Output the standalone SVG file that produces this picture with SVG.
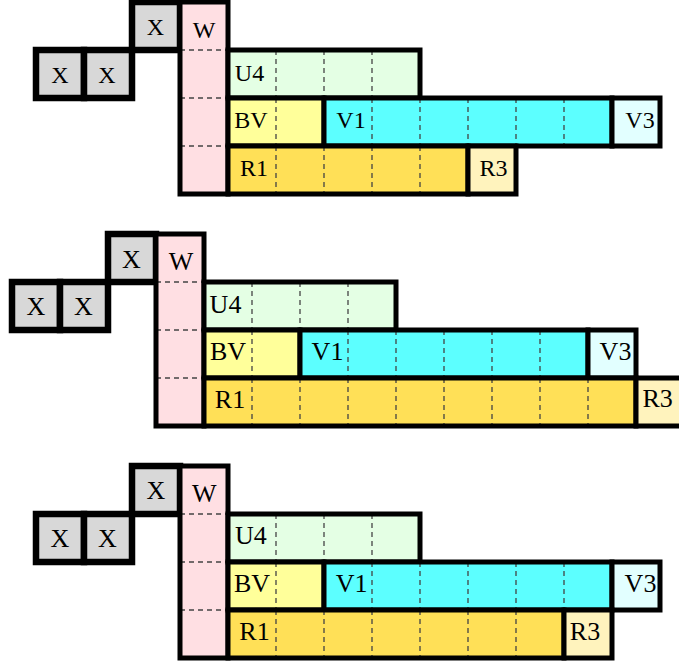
<svg xmlns="http://www.w3.org/2000/svg" width="679" height="666" viewBox="0 0 679 666">
<style>
.bg{fill:#ffffff}
.x{fill:#d8d8d8;stroke:#000;stroke-width:6.5}
.w{fill:#ffdfe3}
.u4{fill:#e4ffe4}
.bv{fill:#ffff9a}
.v1{fill:#5cffff}
.v3{fill:#e2ffff}
.r1{fill:#ffe057}
.r3{fill:#fff3bd}
.ol{fill:none;stroke:#000;stroke-width:5}
.cell{stroke:#9a9a9a;stroke-width:1}
.d{stroke:#444;stroke-width:1.3;stroke-dasharray:5 4;fill:none}
text{font-family:"Liberation Serif","Times New Roman",serif;fill:#000;text-anchor:middle}
.s1 text{font-size:24px}
.s2 text{font-size:26px}
.s3 text{font-size:26px}
</style>
<rect class="bg" x="0" y="0" width="679" height="666"/>

<!-- Diagram 1 -->
<g id="diagram1" class="s1">
  <g id="d1-X1"><rect class="x" x="36" y="50" width="48" height="48"/><text x="60" y="83">X</text></g>
  <g id="d1-X2"><rect class="x" x="84" y="50" width="48" height="48"/><text x="107" y="83">X</text></g>
  <g id="d1-X3"><rect class="x" x="132" y="2" width="48" height="48"/><text x="155.5" y="35.3">X</text></g>
  <g id="d1-W"><rect class="w cell" x="180" y="2" width="48" height="192"/><path class="d" d="M180 50H228M180 98H228M180 146H228"/><rect class="ol" x="180" y="2" width="48" height="192"/><text x="204" y="38">W</text></g>
  <g id="d1-U4"><rect class="u4 cell" x="228" y="50" width="192" height="48"/><path class="d" d="M276 50V98M324 50V98M372 50V98"/><rect class="ol" x="228" y="50" width="192" height="48"/><text x="249.5" y="81">U4</text></g>
  <g id="d1-BV"><rect class="bv cell" x="228" y="98" width="96" height="48"/><path class="d" d="M276 98V146"/><rect class="ol" x="228" y="98" width="96" height="48"/><text x="251" y="128">BV</text></g>
  <g id="d1-V1"><rect class="v1 cell" x="324" y="98" width="288" height="48"/><path class="d" d="M372 98V146M420 98V146M468 98V146M516 98V146M564 98V146"/><rect class="ol" x="324" y="98" width="288" height="48"/><text x="351" y="127.5">V1</text></g>
  <g id="d1-V3"><rect class="v3 cell" x="612" y="98" width="48" height="48"/><rect class="ol" x="612" y="98" width="48" height="48"/><text x="640" y="127.5">V3</text></g>
  <g id="d1-R1"><rect class="r1 cell" x="228" y="146" width="240" height="48"/><path class="d" d="M276 146V194M324 146V194M372 146V194M420 146V194"/><rect class="ol" x="228" y="146" width="240" height="48"/><text x="254" y="176">R1</text></g>
  <g id="d1-R3"><rect class="r3 cell" x="468" y="146" width="48" height="48"/><rect class="ol" x="468" y="146" width="48" height="48"/><text x="493.5" y="175.5">R3</text></g>
</g>

<!-- Diagram 2 -->
<g id="diagram2" class="s2" transform="translate(-24,232)">
  <g id="d2-X1"><rect class="x" x="36" y="50" width="48" height="48"/><text x="60" y="83">X</text></g>
  <g id="d2-X2"><rect class="x" x="84" y="50" width="48" height="48"/><text x="107.5" y="83">X</text></g>
  <g id="d2-X3"><rect class="x" x="132" y="2" width="48" height="48"/><text x="155.5" y="35.5">X</text></g>
  <g id="d2-W"><rect class="w cell" x="180" y="2" width="48" height="192"/><path class="d" d="M180 50H228M180 98H228M180 146H228"/><rect class="ol" x="180" y="2" width="48" height="192"/><text x="205" y="38">W</text></g>
  <g id="d2-U4"><rect class="u4 cell" x="228" y="50" width="192" height="48"/><path class="d" d="M276 50V98M324 50V98M372 50V98"/><rect class="ol" x="228" y="50" width="192" height="48"/><text x="249.5" y="80.5">U4</text></g>
  <g id="d2-BV"><rect class="bv cell" x="228" y="98" width="96" height="48"/><path class="d" d="M276 98V146"/><rect class="ol" x="228" y="98" width="96" height="48"/><text x="252" y="128">BV</text></g>
  <g id="d2-V1"><rect class="v1 cell" x="324" y="98" width="288" height="48"/><path class="d" d="M372 98V146M420 98V146M468 98V146M516 98V146M564 98V146"/><rect class="ol" x="324" y="98" width="288" height="48"/><text x="351.5" y="128">V1</text></g>
  <g id="d2-V3"><rect class="v3 cell" x="612" y="98" width="48" height="48"/><rect class="ol" x="612" y="98" width="48" height="48"/><text x="639.5" y="127.5">V3</text></g>
  <g id="d2-R1"><rect class="r1 cell" x="228" y="146" width="432" height="48"/><path class="d" d="M276 146V194M324 146V194M372 146V194M420 146V194M468 146V194M516 146V194M564 146V194M612 146V194"/><rect class="ol" x="228" y="146" width="432" height="48"/><text x="254" y="176.3">R1</text></g>
  <g id="d2-R3"><rect class="r3 cell" x="660" y="146" width="48" height="48"/><rect class="ol" x="660" y="146" width="48" height="48"/><text x="681.7" y="174.7">R3</text></g>
</g>

<!-- Diagram 3 -->
<g id="diagram3" class="s3" transform="translate(0,464)">
  <g id="d3-X1"><rect class="x" x="36" y="50" width="48" height="48"/><text x="60" y="83">X</text></g>
  <g id="d3-X2"><rect class="x" x="84" y="50" width="48" height="48"/><text x="107.5" y="83">X</text></g>
  <g id="d3-X3"><rect class="x" x="132" y="2" width="48" height="48"/><text x="156" y="35">X</text></g>
  <g id="d3-W"><rect class="w cell" x="180" y="2" width="48" height="192"/><path class="d" d="M180 50H228M180 98H228M180 146H228"/><rect class="ol" x="180" y="2" width="48" height="192"/><text x="204.2" y="37.7">W</text></g>
  <g id="d3-U4"><rect class="u4 cell" x="228" y="50" width="192" height="48"/><path class="d" d="M276 50V98M324 50V98M372 50V98"/><rect class="ol" x="228" y="50" width="192" height="48"/><text x="250.8" y="80.3">U4</text></g>
  <g id="d3-BV"><rect class="bv cell" x="228" y="98" width="96" height="48"/><path class="d" d="M276 98V146"/><rect class="ol" x="228" y="98" width="96" height="48"/><text x="252" y="127.7">BV</text></g>
  <g id="d3-V1"><rect class="v1 cell" x="324" y="98" width="288" height="48"/><path class="d" d="M372 98V146M420 98V146M468 98V146M516 98V146M564 98V146"/><rect class="ol" x="324" y="98" width="288" height="48"/><text x="351.7" y="127.7">V1</text></g>
  <g id="d3-V3"><rect class="v3 cell" x="612" y="98" width="48" height="48"/><rect class="ol" x="612" y="98" width="48" height="48"/><text x="640.5" y="127.7">V3</text></g>
  <g id="d3-R1"><rect class="r1 cell" x="228" y="146" width="336" height="48"/><path class="d" d="M276 146V194M324 146V194M372 146V194M420 146V194M468 146V194M516 146V194"/><rect class="ol" x="228" y="146" width="336" height="48"/><text x="254.5" y="176">R1</text></g>
  <g id="d3-R3"><rect class="r3 cell" x="564" y="146" width="48" height="48"/><rect class="ol" x="564" y="146" width="48" height="48"/><text x="585" y="176">R3</text></g>
</g>
</svg>
